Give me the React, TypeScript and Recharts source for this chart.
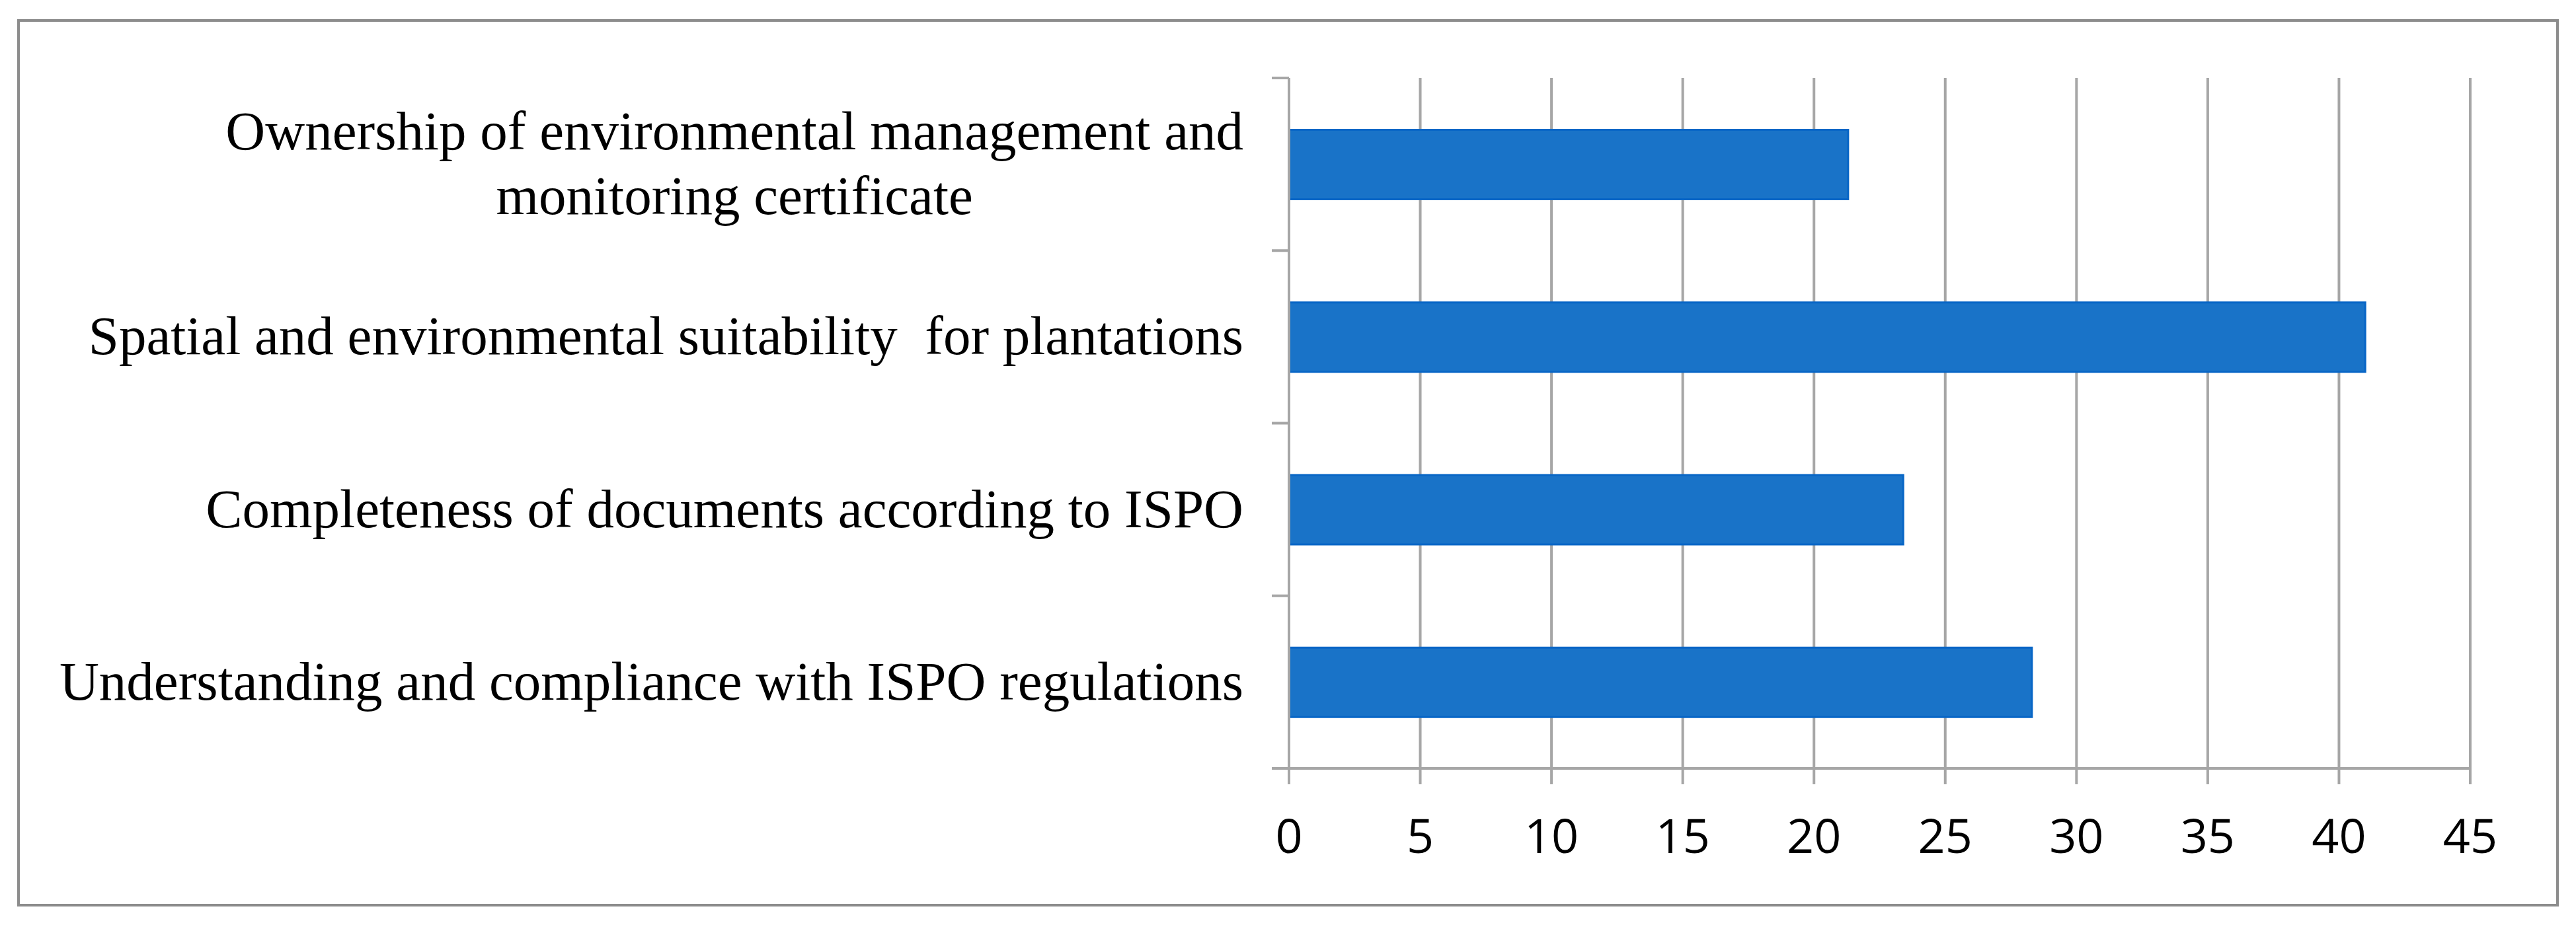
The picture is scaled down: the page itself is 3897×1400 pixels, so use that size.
import { Bar, BarChart, CartesianGrid, XAxis, YAxis } from "recharts";

// categories top to bottom, as drawn
const categories = [
  "Ownership of environmental management and\nmonitoring certificate",
  "Spatial and environmental suitability  for plantations",
  "Completeness of documents according to ISPO",
  "Understanding and compliance with ISPO regulations",
];
const values = [21.3, 41.0, 23.4, 28.3];
const xTicks = [0, 5, 10, 15, 20, 25, 30, 35, 40, 45];
// band boundaries for the Excel-style tick marks on the category axis
const boundaryTicks = [0, 1, 2, 3, 4];

const data = categories.map((label, i) => ({ label, value: values[i] }));

const GRID = "#A6A6A6";
const LABEL_FONT_SIZE = 83;
const LABEL_FONT = `${LABEL_FONT_SIZE}px "Liberation Serif"`;

let ctx: CanvasRenderingContext2D | null = null;
function textWidth(s: string) {
  if (!ctx) ctx = document.createElement("canvas").getContext("2d");
  if (!ctx) return s.length * LABEL_FONT_SIZE * 0.42;
  ctx.font = LABEL_FONT;
  return ctx.measureText(s).width;
}

function CategoryTick(props: any) {
  const { x, y, payload } = props;
  const lines = String(payload.value).split("\n");
  const w = Math.max(...lines.map(textWidth));
  const cx = x - w / 2;
  const lh = 98;
  const y0 = y - ((lines.length - 1) * lh) / 2;
  return (
    <g>
      {lines.map((ln, i) => (
        <text
          key={i}
          x={cx}
          y={y0 + i * lh}
          dy="0.32em"
          textAnchor="middle"
          fill="#000"
          style={{ font: LABEL_FONT, whiteSpace: "pre" }}
        >
          {ln}
        </text>
      ))}
    </g>
  );
}

export default function App() {
  return (
    <div style={{ position: "absolute", left: 0, top: 0, width: 3897, height: 1400, background: "#fff" }}>
      <div
        style={{
          position: "absolute",
          left: 26,
          top: 29,
          width: 3845,
          height: 1343,
          boxSizing: "border-box",
          border: "4px solid #8C8C8C",
        }}
      />
      <BarChart
        width={3897}
        height={1400}
        data={data}
        layout="vertical"
        margin={{ top: 118, right: 160, bottom: 87, left: 0 }}
        barCategoryGap="30%"
        style={{ position: "absolute", left: 0, top: 0 }}
      >
        <CartesianGrid vertical horizontal={false} stroke={GRID} strokeWidth={4} yAxisId="cat" />
        <XAxis
          type="number"
          domain={[0, 45]}
          ticks={xTicks}
          interval={0}
          height={150}
          axisLine={{ stroke: GRID, strokeWidth: 4 }}
          tickLine={{ stroke: GRID, strokeWidth: 4 }}
          tickSize={24}
          tickMargin={53}
          tick={{ fill: "#000", fontSize: 72, fontFamily: "Open Sans" }}
        />
        <YAxis
          yAxisId="bounds"
          type="number"
          dataKey="value"
          domain={[0, 4]}
          ticks={boundaryTicks}
          allowDataOverflow
          interval={0}
          width={30}
          axisLine={{ stroke: GRID, strokeWidth: 4 }}
          tickLine={{ stroke: GRID, strokeWidth: 4 }}
          tickSize={26}
          tickFormatter={() => ""}
        />
        <YAxis
          yAxisId="cat"
          type="category"
          dataKey="label"
          width={1920}
          axisLine={false}
          tickLine={false}
          tickSize={0}
          tickMargin={39}
          interval={0}
          tick={<CategoryTick />}
        />
        <Bar
          yAxisId="cat"
          dataKey="value"
          fill="#1973C8"
          stroke="#0866C6"
          strokeWidth={3}
          isAnimationActive={false}
        />
      </BarChart>
    </div>
  );
}
